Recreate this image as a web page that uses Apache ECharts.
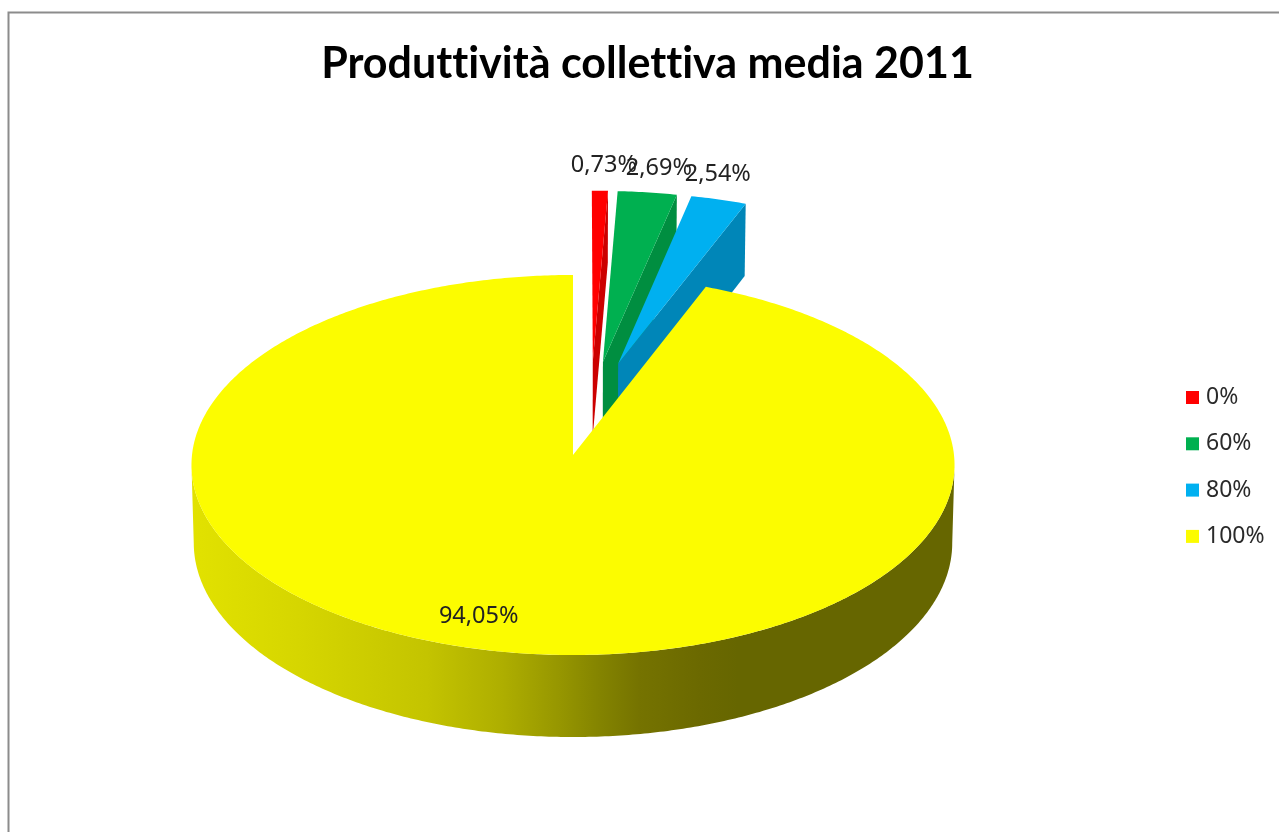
<!DOCTYPE html>
<html>
<head>
<meta charset="utf-8">
<title>Produttività collettiva media 2011</title>
<script src="https://cdn.jsdelivr.net/npm/echarts@6/dist/echarts.min.js"></script>
<style>
  html, body { margin: 0; padding: 0; background: #fff; }
  #chart { width: 1279px; height: 832px; }
</style>
</head>
<body>
<div id="chart"></div>
<script>
// Slice data
const categories = ['0%', '60%', '80%', '100%'];
const shares = [0.73, 2.69, 2.54, 94.05];
const topColours = ['#FF0000', '#00B050', '#00B0F0', '#FCFC00'];
const cutColours = ['#CC0000', '#008E40', '#0086B8', '#999900'];
const chartTitle = 'Produttività collettiva media 2011';

// Perspective camera for the tilted disc
const view = { x: 573, y: 455, rx: 381, ry: 189.5, k: 0.0526, height: 77.7, baseScale: 0.994 };
const explode = 0.255;
const TAU = Math.PI * 2;
const total = shares.reduce((a, b) => a + b, 0);

// Clockwise start / end angles of each slice, from 12 o'clock
const spans = [];
shares.reduce((acc, v) => {
  const next = acc + v / total * TAU;
  spans.push([acc, next]);
  return next;
}, 0);
const midAngle = i => (spans[i][0] + spans[i][1]) / 2;
const dir = a => [Math.sin(a), Math.cos(a)];

// The largest slice is anchored at the view origin, the shared hub sits opposite its offset
const largest = shares.indexOf(Math.max(...shares));
const hub = dir(midAngle(largest)).map(c => -explode * c);

function project(px, pz, lowered) {
  const w = 1 + view.k * pz;
  const s = lowered ? view.baseScale : 1;
  return [
    view.x + s * view.rx * px / w,
    view.y - view.ry * pz / w + (lowered ? view.height / w : 0)
  ];
}

function sliceOrigin(i) {
  const d = dir(midAngle(i));
  return [hub[0] + explode * d[0], hub[1] + explode * d[1]];
}

function rimPoint(i, a, lowered) {
  const o = sliceOrigin(i), d = dir(a);
  return project(o[0] + d[0], o[1] + d[1], lowered);
}

function rimPoints(i, from, to, lowered) {
  const n = Math.max(2, Math.ceil(Math.abs(to - from) / 0.01));
  const pts = [];
  for (let t = 0; t <= n; t++) pts.push(rimPoint(i, from + (to - from) * t / n, lowered));
  return pts;
}

// Label anchors relative to the middle of each slice's rim
const labelNudge = [[4, -25], [11.5, -24], [-1, -25], [-19.5, -35]];
const labelFont = '400 23.5px "Noto Sans", sans-serif';
const formatShare = v => v.toFixed(2).replace('.', ',') + '%';

const wallGradient = {
  type: 'linear', x: 191, y: 0, x2: 951, y2: 0, global: true,
  colorStops: [
    { offset: 0, color: '#E2E200' },
    { offset: 0.14, color: '#D6D600' },
    { offset: 0.31, color: '#C4C400' },
    { offset: 0.41, color: '#AEAE00' },
    { offset: 0.485, color: '#969600' },
    { offset: 0.54, color: '#838300' },
    { offset: 0.59, color: '#757300' },
    { offset: 0.67, color: '#6B6900' },
    { offset: 0.72, color: '#666600' },
    { offset: 1, color: '#666600' }
  ]
};

function renderSlice(i) {
  return function () {
    const [a0, a1] = spans[i];
    const children = [];
    const o = sliceOrigin(i);
    const apexTop = project(o[0], o[1], false);
    const apexLow = project(o[0], o[1], true);

    if (i === largest) {
      // Outer wall between the two silhouette tangents of the disc
      const front0 = Math.acos(-view.k), front1 = TAU - front0;
      children.push({
        type: 'polygon',
        shape: { points: rimPoints(i, front0, front1, false).concat(rimPoints(i, front1, front0, true)) },
        style: { fill: wallGradient }
      });
    } else {
      // Cut face on the clockwise side, seen through the gap
      const cornerTop = rimPoint(i, a1, false);
      const cornerLow = rimPoint(i, a1, true);
      children.push({
        type: 'polygon',
        shape: { points: [apexTop, cornerTop, cornerLow, apexLow] },
        style: { fill: cutColours[i] }
      });
    }

    children.push({
      type: 'polygon',
      shape: { points: [apexTop].concat(rimPoints(i, a0, a1, false)) },
      style: { fill: topColours[i] }
    });

    const mid = rimPoint(i, midAngle(i), false);
    children.push({
      type: 'text',
      z2: 100,
      style: {
        text: formatShare(shares[i]),
        x: mid[0] + labelNudge[i][0],
        y: mid[1] + labelNudge[i][1],
        align: 'center',
        verticalAlign: 'middle',
        font: labelFont,
        fill: '#222222'
      }
    });
    return { type: 'group', children };
  };
}

const chart = echarts.init(document.getElementById('chart'), null, { renderer: 'canvas' });
const option = {
  animation: false,
  backgroundColor: '#ffffff',
  title: {
    text: chartTitle,
    left: 642.5,
    top: 59,
    textAlign: 'center',
    textVerticalAlign: 'middle',
    textStyle: { fontFamily: 'Lato, sans-serif', fontWeight: 700, fontSize: 43, color: '#000000' }
  },
  legend: {
    orient: 'vertical',
    left: 1181,
    top: 379.5,
    itemWidth: 13,
    itemHeight: 13,
    itemGap: 20.3,
    icon: 'rect',
    data: categories,
    selectedMode: false,
    textStyle: { fontFamily: '"Noto Sans", sans-serif', fontSize: 23, color: '#2a2a2a', padding: [0, 0, 0, 2], lineHeight: 26 }
  },
  graphic: [
    { type: 'polyline', silent: true, shape: { points: [[8.5, 840], [8.5, 12.5], [1285, 12.5]] }, style: { stroke: '#8C8C8C', lineWidth: 2, fill: null } }
  ],
  series: categories.map((name, i) => ({
    type: 'custom',
    name,
    coordinateSystem: 'none',
    silent: true,
    z: 2 + i,
    itemStyle: { color: topColours[i] },
    data: [shares[i]],
    renderItem: renderSlice(i)
  }))
};
chart.setOption(option);

// Plain glyph shaping for the title: no joined "tt" ligature
const canvas = document.querySelector('#chart canvas');
if (canvas) {
  canvas.getContext('2d').textRendering = 'optimizeSpeed';
  chart.setOption(option, true);
}
</script>
</body>
</html>
